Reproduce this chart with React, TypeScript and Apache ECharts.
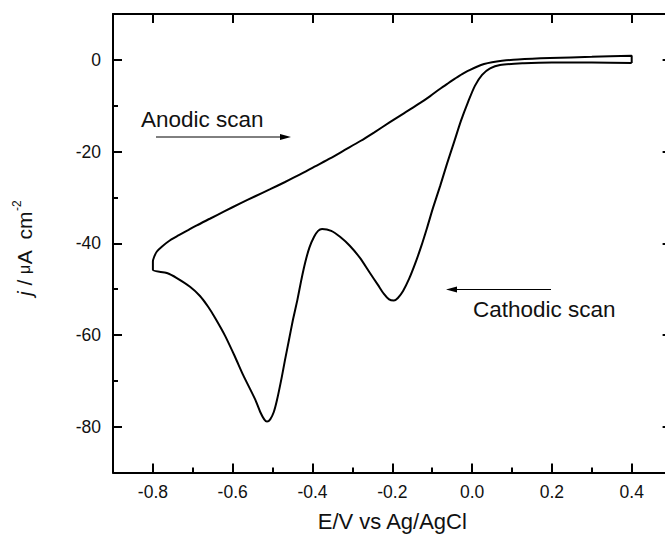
import React, { useEffect, useRef } from "react";
import * as echarts from "echarts";

// Cathodic scan (0.4 V -> -0.8 V), potential in V and current density in µA cm^-2
const cathodicE = [0.4, 0.3, 0.2, 0.13, 0.07, 0.045, 0.025, 0.007, -0.01, -0.028, -0.045, -0.063, -0.08, -0.098, -0.113, -0.128, -0.143, -0.158, -0.173, -0.186, -0.196, -0.208, -0.221, -0.236, -0.256, -0.281, -0.306, -0.331, -0.353, -0.376, -0.386, -0.396, -0.408, -0.418, -0.428, -0.438, -0.449, -0.459, -0.469, -0.477, -0.489, -0.497, -0.506, -0.514, -0.521, -0.531, -0.544, -0.574, -0.594, -0.619, -0.644, -0.662, -0.682, -0.707, -0.74, -0.765, -0.8];
const cathodicJ = [-0.7, -0.6, -0.6, -0.75, -1.1, -1.85, -3.27, -5.67, -9.16, -13.31, -17.89, -22.69, -27.49, -32.29, -36.66, -40.8, -44.51, -47.78, -50.4, -51.93, -52.48, -52.26, -51.06, -49.09, -46.5, -43.2, -40.6, -38.6, -37.3, -36.9, -37.3, -38.6, -41, -44.1, -48, -52.4, -56.7, -61.1, -65.5, -69.2, -74.2, -76.8, -78.4, -78.9, -78.4, -76.8, -74.0, -68.7, -64.8, -60.2, -56.3, -53.8, -51.5, -49.5, -47.6, -46.5, -45.8];

// Anodic scan (-0.8 V -> 0.4 V)
const anodicE = [-0.8, -0.797, -0.79, -0.777, -0.756, -0.736, -0.713, -0.69, -0.656, -0.62, -0.581, -0.545, -0.506, -0.47, -0.431, -0.395, -0.356, -0.32, -0.28, -0.245, -0.206, -0.17, -0.13, -0.105, -0.08, -0.06, -0.043, -0.025, -0.005, 0.012, 0.03, 0.05, 0.075, 0.115, 0.195, 0.3, 0.4];
const anodicJ = [-44, -43, -41.8, -40.7, -39.3, -38.3, -37.2, -36.1, -34.6, -33.0, -31.3, -29.8, -28.2, -26.7, -25.0, -23.3, -21.5, -19.7, -17.7, -15.8, -13.6, -11.6, -9.4, -7.9, -6.3, -5.1, -4.1, -3.1, -2.2, -1.5, -0.9, -0.5, -0.2, 0.1, 0.4, 0.65, 0.9];

const xMajorTicks = [-0.8, -0.6, -0.4, -0.2, 0, 0.2, 0.4];
const xMinorTicks = [-0.7, -0.5, -0.3, -0.1, 0.1, 0.3];
const yMajorTicks = [0, -20, -40, -60, -80];
const yMinorTicks = [-10, -30, -50, -70];

const xTitle = "E/V vs Ag/AgCl";
const yTitle = "{i|j} / {m|\u03bc}A  cm{s|-2}";
const anodicLabel = "Anodic scan";
const cathodicLabel = "Cathodic scan";

const FONT = "'Liberation Sans', Arial, Helvetica, sans-serif";
const INK = "#000";
const TXT = "#111";

export default function App() {
  const ref = useRef<HTMLDivElement>(null);

  useEffect(() => {
    const chart = echarts.init(ref.current as HTMLDivElement, null, { renderer: "svg" });

    const loop: number[][] = [];
    cathodicE.forEach((e, i) => loop.push([e, cathodicJ[i]]));
    anodicE.forEach((e, i) => loop.push([e, anodicJ[i]]));
    loop.push([cathodicE[0], cathodicJ[0]]);

    const line = { show: true, onZero: false, lineStyle: { color: INK, width: 2 } };
    const noLine = { show: false, onZero: false };

    const option: any = {
      animation: false,
      backgroundColor: "#fff",
      grid: { left: 113, right: -6.6, top: 14, bottom: 64.5, containLabel: false, outerBoundsMode: "none" },
      xAxis: [
        {
          type: "value", position: "bottom", min: -0.9, max: 0.5,
          name: xTitle, nameLocation: "middle", nameGap: 38,
          nameTextStyle: { fontFamily: FONT, fontSize: 22, color: TXT },
          axisLine: line,
          axisTick: { show: true, inside: true, length: 9, lineStyle: { color: INK, width: 2 }, customValues: xMajorTicks },
          axisLabel: { show: true, customValues: xMajorTicks, formatter: (v: number) => v.toFixed(1), fontFamily: FONT, fontSize: 17.5, color: TXT, margin: 10 },
          splitLine: { show: false }, minorTick: { show: false }, minorSplitLine: { show: false },
        },
        {
          type: "value", position: "bottom", min: -0.9, max: 0.5,
          axisLine: noLine,
          axisTick: { show: true, inside: true, length: 5, lineStyle: { color: INK, width: 2 }, customValues: xMinorTicks },
          axisLabel: { show: false }, splitLine: { show: false },
        },
        {
          type: "value", position: "top", min: -0.9, max: 0.5,
          axisLine: line,
          axisTick: { show: true, inside: true, length: 9, lineStyle: { color: INK, width: 2 }, customValues: xMajorTicks },
          axisLabel: { show: false }, splitLine: { show: false },
        },
      ],
      yAxis: [
        {
          type: "value", position: "left", min: -90, max: 10,
          name: yTitle, nameLocation: "middle", nameRotate: 90, nameGap: 76,
          nameTextStyle: {
            fontFamily: FONT, fontSize: 21, color: TXT, lineHeight: 26, padding: [0, 10, 0, 0],
            rich: {
              i: { fontFamily: FONT, fontSize: 21, fontStyle: "italic", color: TXT, lineHeight: 26 },
              m: { fontFamily: FONT, fontSize: 16, color: TXT, lineHeight: 26 },
              s: { fontFamily: FONT, fontSize: 12, color: TXT, verticalAlign: "top", lineHeight: 14 },
            },
          },
          axisLine: line,
          axisTick: { show: true, inside: true, length: 9, lineStyle: { color: INK, width: 2 }, customValues: yMajorTicks },
          axisLabel: { show: true, customValues: yMajorTicks, fontFamily: FONT, fontSize: 17.5, color: TXT, margin: 12 },
          splitLine: { show: false },
        },
        {
          type: "value", position: "left", min: -90, max: 10,
          axisLine: noLine,
          axisTick: { show: true, inside: true, length: 5, lineStyle: { color: INK, width: 2 }, customValues: yMinorTicks },
          axisLabel: { show: false }, splitLine: { show: false },
        },
        {
          type: "value", position: "right", min: -90, max: 10,
          axisLine: line,
          axisTick: { show: true, inside: true, length: 9, lineStyle: { color: INK, width: 2 }, customValues: yMajorTicks },
          axisLabel: { show: false }, splitLine: { show: false },
        },
      ],
      series: [
        {
          name: "CV",
          type: "line",
          xAxisIndex: 0,
          yAxisIndex: 0,
          data: loop,
          symbol: "none",
          showSymbol: false,
          smooth: 0.25,
          lineStyle: { color: INK, width: 2 },
          silent: true,
        },
      ],
      graphic: [
        {
          type: "text", left: 141, top: 107.5, silent: true,
          style: { text: anodicLabel, fontFamily: FONT, fontSize: 22.5, fill: TXT },
        },
        { type: "line", silent: true, shape: { x1: 156, y1: 137, x2: 283, y2: 137 }, style: { stroke: INK, lineWidth: 1 } },
        { type: "polygon", silent: true, shape: { points: [[291, 137], [280, 134], [280, 140]] }, style: { fill: INK } },
        {
          type: "text", left: 473, top: 297.5, silent: true,
          style: { text: cathodicLabel, fontFamily: FONT, fontSize: 22.5, fill: TXT },
        },
        { type: "line", silent: true, shape: { x1: 455, y1: 289.5, x2: 551, y2: 289.5 }, style: { stroke: INK, lineWidth: 1 } },
        { type: "polygon", silent: true, shape: { points: [[446, 289.5], [457, 286.5], [457, 292.5]] }, style: { fill: INK } },
      ],
    };

    chart.setOption(option);
    return () => chart.dispose();
  }, []);

  return <div ref={ref} style={{ position: "fixed", left: 0, top: 0, width: 665, height: 537 }} />;
}
